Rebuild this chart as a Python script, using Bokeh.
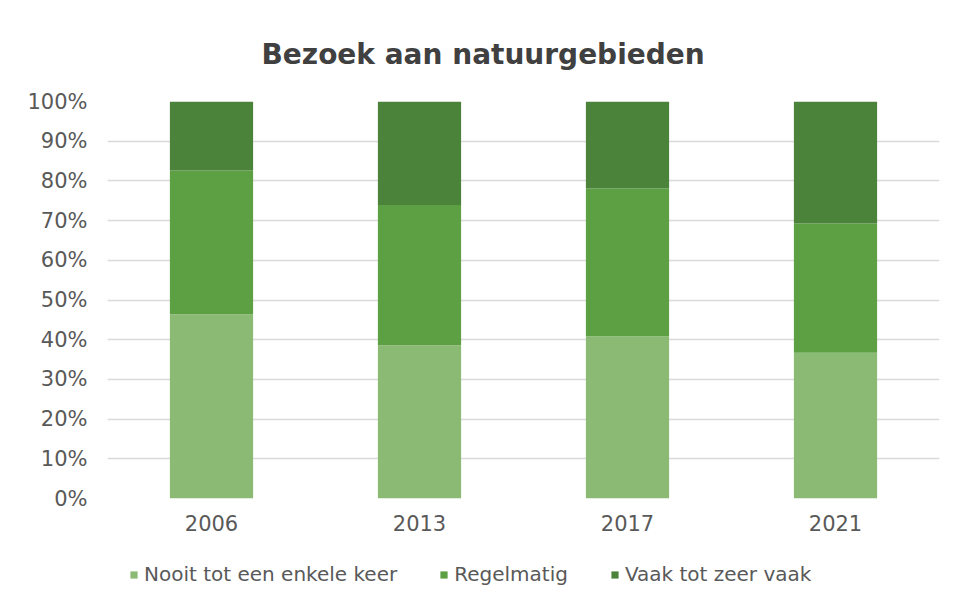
from bokeh.plotting import figure
from bokeh.layouts import column
from bokeh.models import Range1d, FixedTicker, NumeralTickFormatter, Legend, LegendItem, ColumnDataSource
from bokeh.embed import file_html
from bokeh.resources import INLINE

years = ["2006", "2013", "2017", "2021"]
nooit = [0.464, 0.386, 0.409, 0.367]
regelmatig = [0.362, 0.353, 0.372, 0.326]
vaak = [0.174, 0.261, 0.219, 0.307]
series = ["Nooit tot een enkele keer", "Regelmatig", "Vaak tot zeer vaak"]
colors = ["#8bba74", "#5ca043", "#4b833b"]
yticks = [i / 10 for i in range(11)]

src = ColumnDataSource(dict(year=years, nooit=nooit, regelmatig=regelmatig, vaak=vaak))
stack_keys = ["nooit", "regelmatig", "vaak"]

FONT = "DejaVu Sans"
TXT = "#595959"

p = figure(x_range=years, y_range=Range1d(0, 1), frame_width=832, frame_height=397,
           output_backend="svg", toolbar_location=None,
           title="Bezoek aan natuurgebieden",
           min_border_left=107, min_border_right=1,
           min_border_top=101, min_border_bottom=50)
p.x_range.range_padding = 0

p.vbar_stack(stack_keys, x="year", width=0.4, source=src, color=colors, line_color=None)

p.title.text_font = FONT
p.title.text_font_style = "bold"
p.title.text_font_size = "28px"
p.title.text_color = "#404040"
p.title.align = "left"
p.title.offset = 154
p.title.standoff = 62

p.outline_line_color = None
p.xgrid.grid_line_color = None
p.ygrid.grid_line_color = "#d9d9d9"
p.ygrid.grid_line_width = 1.5
p.yaxis.ticker = FixedTicker(ticks=yticks)
p.yaxis.formatter = NumeralTickFormatter(format="0%")
for ax in (p.xaxis[0], p.yaxis[0]):
    ax.axis_line_color = None
    ax.major_tick_line_color = None
    ax.minor_tick_line_color = None
    ax.major_label_text_font = FONT
    ax.major_label_text_font_size = "21px"
    ax.major_label_text_color = TXT
p.yaxis.major_label_standoff = 14
p.xaxis.major_label_standoff = 10

# legend strip below the chart
lg = figure(x_range=years, y_range=Range1d(2, 3), width=941, height=55,
            output_backend="svg", toolbar_location=None,
            x_axis_location=None, y_axis_location=None,
            min_border_left=0, min_border_right=0, min_border_top=0, min_border_bottom=0)
lg.grid.visible = False
lg.outline_line_color = None
lrs = lg.vbar_stack(stack_keys, x="year", width=0.4, source=src, color=colors, line_color=None)

legend = Legend(items=[LegendItem(label=s, renderers=[r]) for s, r in zip(series, lrs)],
                orientation="horizontal", location=(22, 17),
                label_text_font=FONT, label_text_font_size="20px", label_text_color=TXT,
                glyph_width=9, glyph_height=9, label_standoff=6, spacing=42,
                padding=0, margin=0,
                border_line_color=None, background_fill_alpha=0)
lg.add_layout(legend, "center")

layout = column(p, lg, spacing=0)
open("out.html", "w").write(file_html(layout, INLINE))
